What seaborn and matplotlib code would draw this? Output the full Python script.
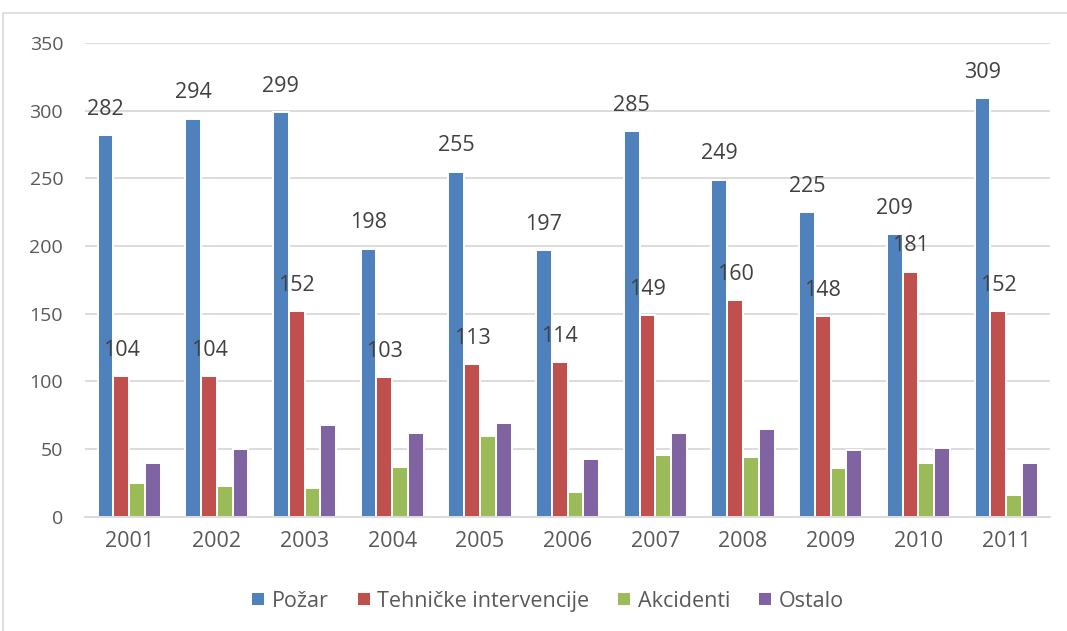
import pandas as pd
import matplotlib.pyplot as plt
import seaborn as sns
from matplotlib.patches import Rectangle

years = ["2001", "2002", "2003", "2004", "2005", "2006", "2007", "2008", "2009", "2010", "2011"]
series_names = ["Požar", "Tehničke intervencije", "Akcidenti", "Ostalo"]
pozar = [282, 294, 299, 198, 255, 197, 285, 249, 225, 209, 309]
tehnicke = [104, 104, 152, 103, 113, 114, 149, 160, 148, 181, 152]
akcidenti = [25, 23, 21, 37, 60, 18, 46, 44, 36, 40, 16]
ostalo = [40, 50, 68, 62, 69, 43, 62, 65, 49, 51, 40]
colors = ["#4f81bd", "#c0504d", "#9bbb59", "#8064a2"]

rows = []
for name, vals in zip(series_names, [pozar, tehnicke, akcidenti, ostalo]):
    for y, v in zip(years, vals):
        rows.append({"year": y, "series": name, "value": v})
df = pd.DataFrame(rows)

sns.set_style("white")
plt.rcParams["font.family"] = ["Open Sans", "DejaVu Sans"]

fig = plt.figure(figsize=(10.67, 6.31), dpi=100)
ax = fig.add_axes([0.08, 0.181, 0.904, 0.751])

sns.barplot(data=df, x="year", y="value", hue="series", hue_order=series_names,
            palette=colors, width=0.72, edgecolor="white", linewidth=1.4,
            saturation=1, ax=ax, legend=True)

# labels only on the first two series
for cont, name in zip(ax.containers, series_names):
    if name in ("Požar", "Tehničke intervencije"):
        ax.bar_label(cont, padding=11, fontsize=15.5, color="#404040")

ax.set_ylim(0, 350)
ax.set_xlim(-0.5, 10.5)
ax.set_yticks(range(0, 351, 50))
ax.yaxis.grid(True, color="#d9d9d9", linewidth=1.3)
ax.set_axisbelow(True)
for s in ["top", "right", "left"]:
    ax.spines[s].set_visible(False)
ax.spines["bottom"].set_color("#d9d9d9")
ax.spines["bottom"].set_linewidth(1.3)
ax.tick_params(axis="both", length=0, labelcolor="#595959")
ax.tick_params(axis="y", pad=16, labelsize=14)
ax.tick_params(axis="x", pad=10, labelsize=15.5)
ax.set_xlabel("")
ax.set_ylabel("")

handles, labels = ax.get_legend_handles_labels()
ax.legend_.remove()
fig.legend(handles, labels, loc="center", bbox_to_anchor=(0.513, 0.047), ncol=4,
           frameon=False, fontsize=15.5, handlelength=0.65, handleheight=0.65,
           handletextpad=0.3, columnspacing=1.3, labelcolor="#595959")

fig.patches.append(Rectangle((3 / 1067, -0.05), 1.1, 1 - 13 / 631 + 0.05,
                             transform=fig.transFigure, fill=False,
                             edgecolor="#d9d9d9", linewidth=1.2))

fig.savefig("out.png", dpi=100)
